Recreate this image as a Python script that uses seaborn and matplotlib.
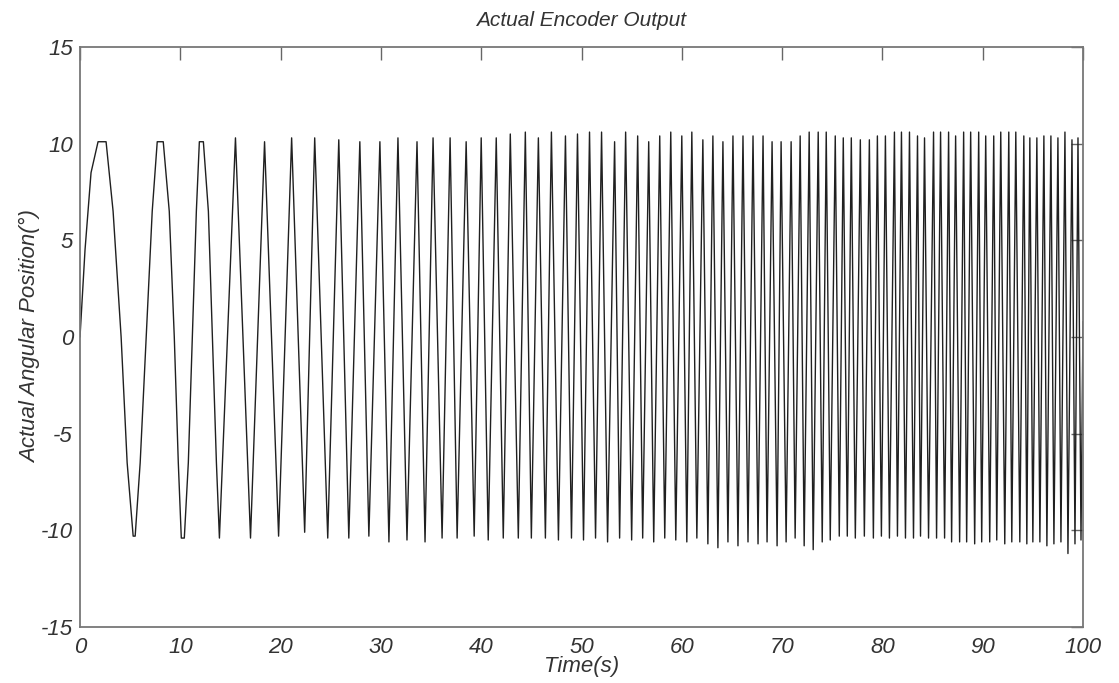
import numpy as np
import pandas as pd
import matplotlib
matplotlib.use("Agg")
import matplotlib.pyplot as plt
import seaborn as sns

# ---- data ----
# peak (maximum) times and values
peak_t = [2.2, 8.0, 12.1, 15.5, 18.4, 21.1, 23.4, 25.8, 27.9, 29.9, 31.7, 33.6, 35.2, 36.9,
          38.5, 40.0, 41.5, 42.9, 44.4, 45.7, 47.0, 48.4,
          49.6, 50.8, 52.0, 53.3, 54.4, 55.6, 56.7, 57.8, 58.9, 60.0, 61.0, 62.1, 63.1, 64.1,
          65.1, 66.1, 67.1, 68.1, 69.0, 69.9, 70.9, 71.8, 72.7, 73.6,
          74.4, 75.3, 76.1, 76.9, 77.8, 78.7, 79.5, 80.3, 81.2, 81.9, 82.7, 83.5, 84.2, 85.1,
          85.8, 86.6, 87.3, 88.1, 88.8, 89.6, 90.3, 91.1, 91.8, 92.6, 93.3, 94.1, 94.7, 95.4,
          96.1, 96.8, 97.5, 98.2, 98.9, 99.5]
peak_v = [10.1, 10.1, 10.1, 10.3, 10.1, 10.3, 10.3, 10.2, 10.1, 10.1, 10.3, 10.1, 10.3, 10.3,
          10.1, 10.3, 10.3, 10.5, 10.6, 10.3, 10.6, 10.4,
          10.5, 10.6, 10.6, 10.1, 10.6, 10.4, 10.1, 10.4, 10.6, 10.4, 10.6, 10.2, 10.4, 10.1,
          10.4, 10.4, 10.4, 10.4, 10.1, 10.1, 10.1, 10.4, 10.6, 10.6,
          10.6, 10.4, 10.3, 10.3, 10.2, 10.2, 10.4, 10.4, 10.6, 10.6, 10.6, 10.4, 10.3, 10.6,
          10.6, 10.6, 10.4, 10.6, 10.6, 10.6, 10.4, 10.4, 10.6, 10.6, 10.6, 10.4, 10.3, 10.3,
          10.4, 10.4, 10.3, 10.6, 10.2, 10.3]

# trough (minimum) times and values
trough_t = [5.5, 10.1, 13.9, 17.0, 19.8, 22.4, 24.7, 26.8, 28.8, 30.8, 32.6, 34.4, 36.1, 37.6,
            39.3, 40.7, 42.2, 43.7, 45.0, 46.4, 47.7, 49.0,
            50.2, 51.4, 52.6, 53.8, 55.0, 56.1, 57.2, 58.3, 59.4, 60.5, 61.5, 62.6, 63.6, 64.6,
            65.6, 66.6, 67.6, 68.5, 69.5, 70.4, 71.3, 72.2, 73.1, 74.0,
            74.8, 75.7, 76.5, 77.3, 78.2, 79.1, 79.9, 80.7, 81.5, 82.3, 83.1, 83.8, 84.6, 85.4,
            86.2, 86.9, 87.7, 88.4, 89.2, 89.9, 90.7, 91.4, 92.2, 92.9, 93.7, 94.4, 95.0, 95.7,
            96.4, 97.1, 97.8, 98.5, 99.2, 99.8]
trough_v = [-10.3, -10.4, -10.4, -10.4, -10.3, -10.1, -10.4, -10.4, -10.3, -10.6, -10.5, -10.6, -10.4, -10.4,
            -10.3, -10.5, -10.4, -10.4, -10.4, -10.4, -10.5, -10.4,
            -10.5, -10.4, -10.6, -10.4, -10.5, -10.4, -10.6, -10.4, -10.5, -10.6, -10.4, -10.7, -10.9, -10.6,
            -10.8, -10.6, -10.7, -10.6, -10.8, -10.6, -10.4, -10.8, -11.0, -10.6,
            -10.5, -10.3, -10.3, -10.4, -10.3, -10.4, -10.3, -10.4, -10.3, -10.4, -10.4, -10.3, -10.4, -10.4,
            -10.4, -10.6, -10.6, -10.6, -10.7, -10.6, -10.6, -10.5, -10.7, -10.6, -10.6, -10.7, -10.6, -10.6,
            -10.8, -10.7, -10.6, -11.2, -10.7, -10.5]

# extra points on the slow first cycles (plateaus and slope readings)
shape_t = [0.0, 0.5, 1.1, 1.8, 2.6, 3.3, 4.1, 4.7, 5.3,
           6.0, 6.6, 7.2, 7.7, 8.3, 8.9, 9.4, 9.8, 10.4,
           10.8, 11.2, 11.6, 11.9, 12.3, 12.8, 13.2, 13.6,
           100.0]
shape_v = [0.0, 4.5, 8.5, 10.1, 10.1, 6.5, 0.0, -6.5, -10.3,
           -6.5, 0.0, 6.5, 10.1, 10.1, 6.5, 0.0, -6.5, -10.4,
           -6.5, 0.0, 6.5, 10.1, 10.1, 6.5, 0.0, -6.5,
           0.8]

x_ticks = [0, 10, 20, 30, 40, 50, 60, 70, 80, 90, 100]
y_ticks = [-15, -10, -5, 0, 5, 10, 15]

title = "Actual Encoder Output"
x_label = "Time(s)"
y_label = "Actual Angular Position(°)"

# ---- assemble ----
df = pd.DataFrame({
    "t": peak_t + trough_t + shape_t,
    "v": peak_v + trough_v + shape_v,
}).sort_values("t", kind="mergesort").reset_index(drop=True)

sns.set_style("white")
plt.rcParams["font.family"] = ["Liberation Sans", "DejaVu Sans"]

fig = plt.figure(figsize=(11.19, 6.83), dpi=100)
ax = fig.add_axes([80 / 1119, 1 - 627 / 683, (1083 - 80) / 1119, (627 - 47) / 683])

sns.lineplot(data=df, x="t", y="v", ax=ax, sort=False, estimator=None,
             color="#202020", linewidth=1.0)

ax.set_xlim(0, 100)
ax.set_ylim(-15, 15)
ax.set_xticks(x_ticks)
ax.set_yticks(y_ticks)
ax.set_xticklabels([str(v) for v in x_ticks], fontsize=16, style="italic", color="#333333")
ax.set_yticklabels([str(v) for v in y_ticks], fontsize=16, style="italic", color="#333333")
ax.tick_params(axis="both", direction="in", top=True, right=True, length=9, width=1.0,
               color="#666666")
ax.tick_params(axis="x", pad=7)
ax.tick_params(axis="y", pad=5)
for s in ax.spines.values():
    s.set_color("#777777")
    s.set_linewidth(1.3)

ax.set_xlabel(x_label, fontsize=16, style="italic", color="#333333", labelpad=-1)
ax.set_ylabel(y_label, fontsize=16, style="italic", color="#333333", labelpad=0)
ax.set_title(title, fontsize=15, style="italic", color="#333333", pad=15)

fig.savefig("out.png", dpi=100)
